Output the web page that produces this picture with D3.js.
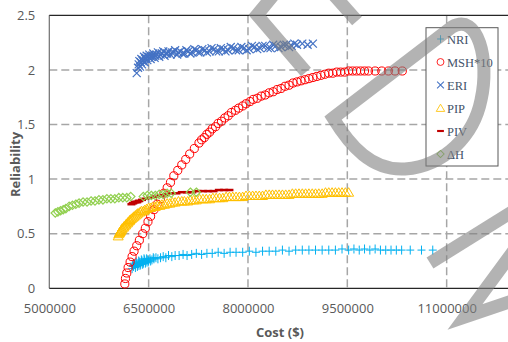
<!DOCTYPE html>
<html>
<head>
<meta charset="utf-8">
<script src="https://cdn.jsdelivr.net/npm/d3@7"></script>
<style>
  body { margin: 0; background: #fff; }
  svg { display: block; }
</style>
</head>
<body>
<svg id="chart"></svg>
<script>
// tick values
var costTicks = [5000000, 6500000, 8000000, 9500000, 11000000];
var relTicks = [0, 0.5, 1, 1.5, 2, 2.5];

// series values: [cost in millions, reliability]
var NRI = [[6.25,0.18],[6.26,0.21],[6.27,0.20],[6.28,0.23],[6.29,0.22],[6.30,0.19],[6.31,0.24],[6.32,0.23],[6.33,0.20],[6.34,0.21],
  [6.35,0.25],[6.36,0.24],[6.37,0.21],[6.38,0.22],[6.39,0.26],[6.40,0.25],[6.41,0.22],[6.42,0.23],[6.43,0.27],[6.44,0.26],
  [6.45,0.23],[6.46,0.24],[6.47,0.27],[6.48,0.26],[6.49,0.24],[6.50,0.25],[6.52,0.27],[6.53,0.25],[6.55,0.26],[6.57,0.28],
  [6.58,0.27],[6.61,0.28],[6.64,0.27],[6.68,0.28],[6.72,0.29],[6.76,0.28],[6.80,0.30],[6.85,0.29],[6.90,0.30],[6.96,0.30],
  [7.02,0.31],[7.08,0.30],[7.15,0.31],[7.22,0.32],[7.30,0.31],[7.38,0.32],[7.46,0.32],[7.55,0.33],[7.64,0.32],[7.73,0.33],
  [7.82,0.33],[7.92,0.33],[8.02,0.34],[8.12,0.33],[8.22,0.34],[8.32,0.34],[8.42,0.34],[8.52,0.35],[8.62,0.34],[8.72,0.35],
  [8.82,0.35],[8.92,0.35],[9.02,0.35],[9.12,0.35],[9.22,0.35],[9.32,0.35],[9.42,0.36],[9.52,0.35],[9.60,0.36],[9.68,0.35],
  [9.76,0.36],[9.84,0.35],[9.92,0.36],[10.00,0.35],[10.08,0.35],[10.16,0.35],[10.24,0.35],[10.32,0.35],[10.45,0.35],
  [10.62,0.35],[10.79,0.35]];

var MSH = [[6.14,0.04],[6.15,0.09],[6.17,0.14],[6.19,0.19],[6.22,0.24],[6.25,0.29],[6.28,0.34],[6.32,0.39],[6.36,0.44],[6.41,0.50],
  [6.45,0.55],[6.49,0.61],[6.53,0.66],[6.58,0.72],[6.63,0.77],[6.68,0.82],[6.73,0.87],[6.78,0.92],[6.83,0.97],[6.88,1.03],
  [6.94,1.08],[7.00,1.13],[7.06,1.18],[7.12,1.23],[7.19,1.28],[7.26,1.33],[7.30,1.36],[7.34,1.38],[7.38,1.41],[7.42,1.43],
  [7.46,1.46],[7.51,1.48],[7.55,1.51],[7.60,1.53],[7.65,1.56],[7.70,1.58],[7.75,1.61],[7.81,1.63],[7.86,1.65],[7.92,1.67],
  [7.97,1.69],[8.03,1.71],[8.08,1.73],[8.14,1.74],[8.20,1.76],[8.26,1.77],[8.32,1.79],[8.38,1.80],[8.44,1.82],[8.50,1.83],
  [8.56,1.85],[8.62,1.86],[8.68,1.88],[8.74,1.89],[8.80,1.90],[8.86,1.91],[8.92,1.92],[8.98,1.93],[9.04,1.94],[9.10,1.95],
  [9.16,1.96],[9.22,1.97],[9.28,1.97],[9.34,1.98],[9.40,1.98],[9.46,1.98],[9.52,1.99],[9.58,1.99],[9.64,1.99],[9.70,1.99],
  [9.76,1.99],[9.82,1.99],[9.92,1.99],[10.02,1.99],[10.12,1.99],[10.22,1.99],[10.33,1.99]];

var ERI = [[6.32,1.97],[6.34,2.02],[6.35,2.05],[6.36,2.08],[6.37,2.03],[6.38,2.07],[6.39,2.10],[6.40,2.05],[6.41,2.08],[6.42,2.09],
  [6.43,2.12],[6.44,2.07],[6.45,2.10],[6.46,2.11],[6.47,2.13],[6.48,2.09],[6.50,2.12],[6.51,2.14],[6.53,2.10],[6.54,2.12],
  [6.56,2.13],[6.57,2.15],[6.59,2.11],[6.60,2.13],[6.62,2.14],[6.64,2.16],[6.66,2.12],[6.68,2.14],[6.70,2.15],[6.72,2.17],
  [6.74,2.13],[6.76,2.15],[6.78,2.15],[6.80,2.17],[6.83,2.14],[6.85,2.16],[6.88,2.16],[6.90,2.18],[6.93,2.14],[6.95,2.16],
  [6.98,2.17],[7.01,2.15],[7.04,2.15],[7.07,2.18],[7.10,2.17],[7.13,2.15],[7.16,2.16],[7.19,2.19],[7.22,2.18],[7.25,2.16],
  [7.28,2.16],[7.31,2.19],[7.35,2.18],[7.38,2.16],[7.42,2.17],[7.45,2.20],[7.49,2.19],[7.52,2.17],[7.56,2.17],[7.59,2.20],
  [7.63,2.19],[7.66,2.17],[7.70,2.18],[7.74,2.21],[7.78,2.20],[7.82,2.18],[7.86,2.18],[7.90,2.21],[7.94,2.20],[7.98,2.18],
  [8.02,2.19],[8.06,2.22],[8.10,2.21],[8.14,2.19],[8.18,2.20],[8.22,2.22],[8.26,2.22],[8.30,2.20],[8.34,2.20],[8.38,2.23],
  [8.42,2.22],[8.46,2.20],[8.50,2.21],[8.54,2.23],[8.58,2.23],[8.62,2.21],[8.66,2.22],[8.70,2.24],[8.74,2.23],[8.82,2.24],
  [8.90,2.23],[8.98,2.24]];

var PIP = [[6.04,0.48],[6.05,0.50],[6.06,0.51],[6.07,0.52],[6.08,0.53],[6.09,0.54],[6.10,0.55],[6.12,0.56],[6.13,0.57],[6.15,0.58],
  [6.16,0.59],[6.18,0.60],[6.19,0.61],[6.21,0.62],[6.22,0.63],[6.24,0.64],[6.26,0.65],[6.28,0.66],[6.30,0.67],[6.32,0.68],
  [6.34,0.69],[6.37,0.70],[6.39,0.71],[6.42,0.71],[6.44,0.72],[6.47,0.73],[6.50,0.74],[6.53,0.74],[6.56,0.75],[6.60,0.75],
  [6.63,0.76],[6.67,0.76],[6.70,0.77],[6.74,0.77],[6.78,0.78],[6.82,0.78],[6.86,0.79],[6.90,0.79],[6.95,0.80],[7.00,0.80],
  [7.04,0.80],[7.09,0.80],[7.13,0.81],[7.18,0.81],[7.22,0.81],[7.27,0.82],[7.32,0.82],[7.37,0.82],[7.42,0.82],[7.47,0.83],
  [7.52,0.83],[7.57,0.83],[7.62,0.83],[7.67,0.84],[7.72,0.84],[7.77,0.84],[7.82,0.84],[7.87,0.84],[7.92,0.84],[7.97,0.85],
  [8.02,0.85],[8.07,0.85],[8.12,0.85],[8.17,0.85],[8.22,0.85],[8.27,0.86],[8.32,0.86],[8.37,0.86],[8.42,0.86],[8.47,0.86],
  [8.52,0.86],[8.57,0.86],[8.62,0.86],[8.67,0.87],[8.72,0.87],[8.77,0.87],[8.82,0.87],[8.87,0.87],[8.92,0.87],[8.97,0.87],
  [9.02,0.87],[9.07,0.87],[9.12,0.87],[9.17,0.88],[9.22,0.88],[9.27,0.88],[9.32,0.88],[9.37,0.88],[9.42,0.88],[9.47,0.88],
  [9.52,0.88]];

var PIV = [[6.24,0.77],[6.26,0.78],[6.27,0.78],[6.29,0.79],[6.30,0.79],[6.32,0.79],[6.33,0.79],[6.35,0.80],[6.36,0.80],[6.40,0.81],
  [6.45,0.82],[6.52,0.83],[6.60,0.84],[6.68,0.85],[6.76,0.86],[6.84,0.87],[6.92,0.87],[7.00,0.88],[7.08,0.88],[7.16,0.88],
  [7.24,0.89],[7.32,0.89],[7.40,0.89],[7.48,0.89],[7.56,0.90],[7.64,0.90],[7.72,0.90]];

var DH = [[5.09,0.69],[5.13,0.70],[5.17,0.71],[5.21,0.72],[5.25,0.73],[5.30,0.75],[5.35,0.76],[5.40,0.77],[5.45,0.78],[5.51,0.79],
  [5.57,0.79],[5.63,0.80],[5.69,0.80],[5.75,0.81],[5.81,0.81],[5.87,0.82],[5.93,0.82],[5.99,0.82],[6.05,0.83],[6.11,0.83],
  [6.17,0.83],[6.23,0.84],[6.42,0.84],[6.48,0.85],[6.54,0.85],[6.60,0.85],[6.66,0.86],[6.72,0.86],[6.78,0.87],[6.84,0.87],
  [7.13,0.88],[7.22,0.88]];

var legendNames = ["NRI", "MSH*10", "ERI", "PIP", "PIV", "\u0394H"];

var dimensions = {
  width: 508,
  height: 342,
  margin: { top: 15.3, bottom: 53.7, left: 49.3, right: -38 }
};

var svg = d3.select("#chart")
  .attr("width", dimensions.width)
  .attr("height", dimensions.height);

var xAccessor = d => d[0] * 1e6;
var yAccessor = d => d[1];

var xScale = d3.scaleLinear()
  .domain([5000000, 12500000])
  .range([dimensions.margin.left, dimensions.width - dimensions.margin.right]);

var yScale = d3.scaleLinear()
  .domain([0, 2.5])
  .range([dimensions.height - dimensions.margin.bottom, dimensions.margin.top]);

var x0 = xScale.range()[0], x1 = xScale.range()[1];
var y0 = yScale.range()[0], y1 = yScale.range()[1];

// grid
var grid = svg.append("g");
grid.selectAll(".hg")
  .data(relTicks.filter(t => t > 0 && t < 2.5))
  .join("line")
  .attr("x1", x0).attr("x2", x1)
  .attr("y1", d => yScale(d)).attr("y2", d => yScale(d))
  .style("stroke", "#a6a6a6")
  .style("stroke-width", 1.5)
  .style("stroke-dasharray", "8,4");
grid.selectAll(".vg")
  .data(costTicks.slice(1))
  .join("line")
  .attr("x1", d => xScale(d)).attr("x2", d => xScale(d))
  .attr("y1", y1).attr("y2", y0)
  .style("stroke", "#a6a6a6")
  .style("stroke-width", 1.5)
  .style("stroke-dasharray", "8,4");

// axes
var xAxisgen = d3.axisBottom(xScale).tickValues(costTicks).tickSize(0).tickPadding(15)
  .tickFormat(d3.format("d"));
var yAxisgen = d3.axisLeft(yScale).tickValues(relTicks).tickSize(0).tickPadding(14)
  .tickFormat(d => String(d));

var xAxis = svg.append("g")
  .attr("transform", `translate(0,${y0})`)
  .call(xAxisgen);
xAxis.select(".domain").remove();

var yAxis = svg.append("g")
  .attr("transform", `translate(${x0},0)`)
  .call(yAxisgen);
yAxis.select(".domain").remove();

svg.selectAll(".tick text")
  .style("font-family", "'Open Sans', sans-serif")
  .style("font-size", "13px")
  .style("fill", "#595959");

svg.append("line")
  .attr("x1", x0).attr("x2", x0).attr("y1", y1).attr("y2", y0)
  .style("stroke", "#6f6f6f").style("stroke-width", 1.2);
svg.append("line")
  .attr("x1", x0).attr("x2", x1).attr("y1", y0).attr("y2", y0)
  .style("stroke", "#262626").style("stroke-width", 1.2);
svg.append("line")
  .attr("x1", x0).attr("x2", x1).attr("y1", y1).attr("y2", y1)
  .style("stroke", "#262626").style("stroke-width", 1.2);

// titles
svg.append("text")
  .attr("x", 280).attr("y", 337)
  .attr("text-anchor", "middle")
  .style("font-family", "'Open Sans', sans-serif")
  .style("font-size", "13px").style("font-weight", "bold")
  .style("fill", "#595959")
  .text("Cost ($)");
svg.append("text")
  .attr("transform", "translate(19.5,164.5) rotate(-90)")
  .attr("text-anchor", "middle")
  .style("font-family", "'Open Sans', sans-serif")
  .style("font-size", "13px").style("font-weight", "bold")
  .style("fill", "#595959")
  .text("Reliability");

// marker shapes
var markers = {
  NRI:  { d: "M-4,0H4M0,-4.5V4.5", stroke: "#00B0F0", width: 1, fill: "none" },
  MSH:  { d: d3.symbol(d3.symbolCircle, 52)(), stroke: "#FF0000", width: 1, fill: "none" },
  ERI:  { d: "M-4,-4L4,4M-4,4L4,-4", stroke: "#4472C4", width: 1.2, fill: "none" },
  PIP:  { d: "M0,-4.5L5,4H-5Z", stroke: "#FFC000", width: 1, fill: "none" },
  PIV:  { d: "M-4,0H4", stroke: "#C00000", width: 2.5, fill: "none" },
  DH:   { d: "M0,-4.2L4.2,0L0,4.2L-4.2,0Z", stroke: "#92D050", width: 1.2, fill: "none" }
};

var seriesList = [
  { key: "NRI", data: NRI },
  { key: "MSH", data: MSH },
  { key: "ERI", data: ERI },
  { key: "PIP", data: PIP },
  { key: "PIV", data: PIV },
  { key: "DH", data: DH }
];

seriesList.forEach(s => {
  var m = markers[s.key];
  svg.append("g")
    .selectAll("path")
    .data(s.data)
    .join("path")
    .attr("transform", d => `translate(${xScale(xAccessor(d))},${yScale(yAccessor(d))})`)
    .attr("d", m.d)
    .style("fill", m.fill)
    .style("stroke", m.stroke)
    .style("stroke-width", m.width);
});

// legend
var legend = svg.append("g");
legend.append("rect")
  .attr("x", 426).attr("y", 27.7).attr("width", 72).attr("height", 138.3)
  .style("fill", "#fff").style("stroke", "#595959").style("stroke-width", 1);
seriesList.forEach((s, i) => {
  var m = markers[s.key];
  var ly = 39 + i * 23;
  legend.append("path")
    .attr("transform", `translate(440.5,${ly}) scale(0.85)`)
    .attr("d", m.d)
    .style("fill", m.fill)
    .style("stroke", m.stroke)
    .style("stroke-width", m.width);
  legend.append("text")
    .attr("x", 447).attr("y", ly + 4.5)
    .style("font-family", "'Liberation Serif', serif")
    .style("font-size", "12.5px")
    .style("fill", "#44546A")
    .text(legendNames[i]);
});

// watermark strokes
var watermark = [
  "M276,-8 L257,15 L306,72",
  "M333,-6 L357,21",
  "M333,118 L452,27 C478,12 490,60 481,100 C474,135 445,166 405,169 C372,171 350,146 333,118 Z",
  "M430,263 L515,210",
  "M515,249 L465,317 L515,300"
];
svg.append("g")
  .selectAll("path")
  .data(watermark)
  .join("path")
  .attr("d", d => d)
  .style("fill", "none")
  .style("stroke", "#808080")
  .style("stroke-opacity", 0.6)
  .style("stroke-width", 13)
  .style("stroke-linejoin", "miter");
</script>
</body>
</html>
